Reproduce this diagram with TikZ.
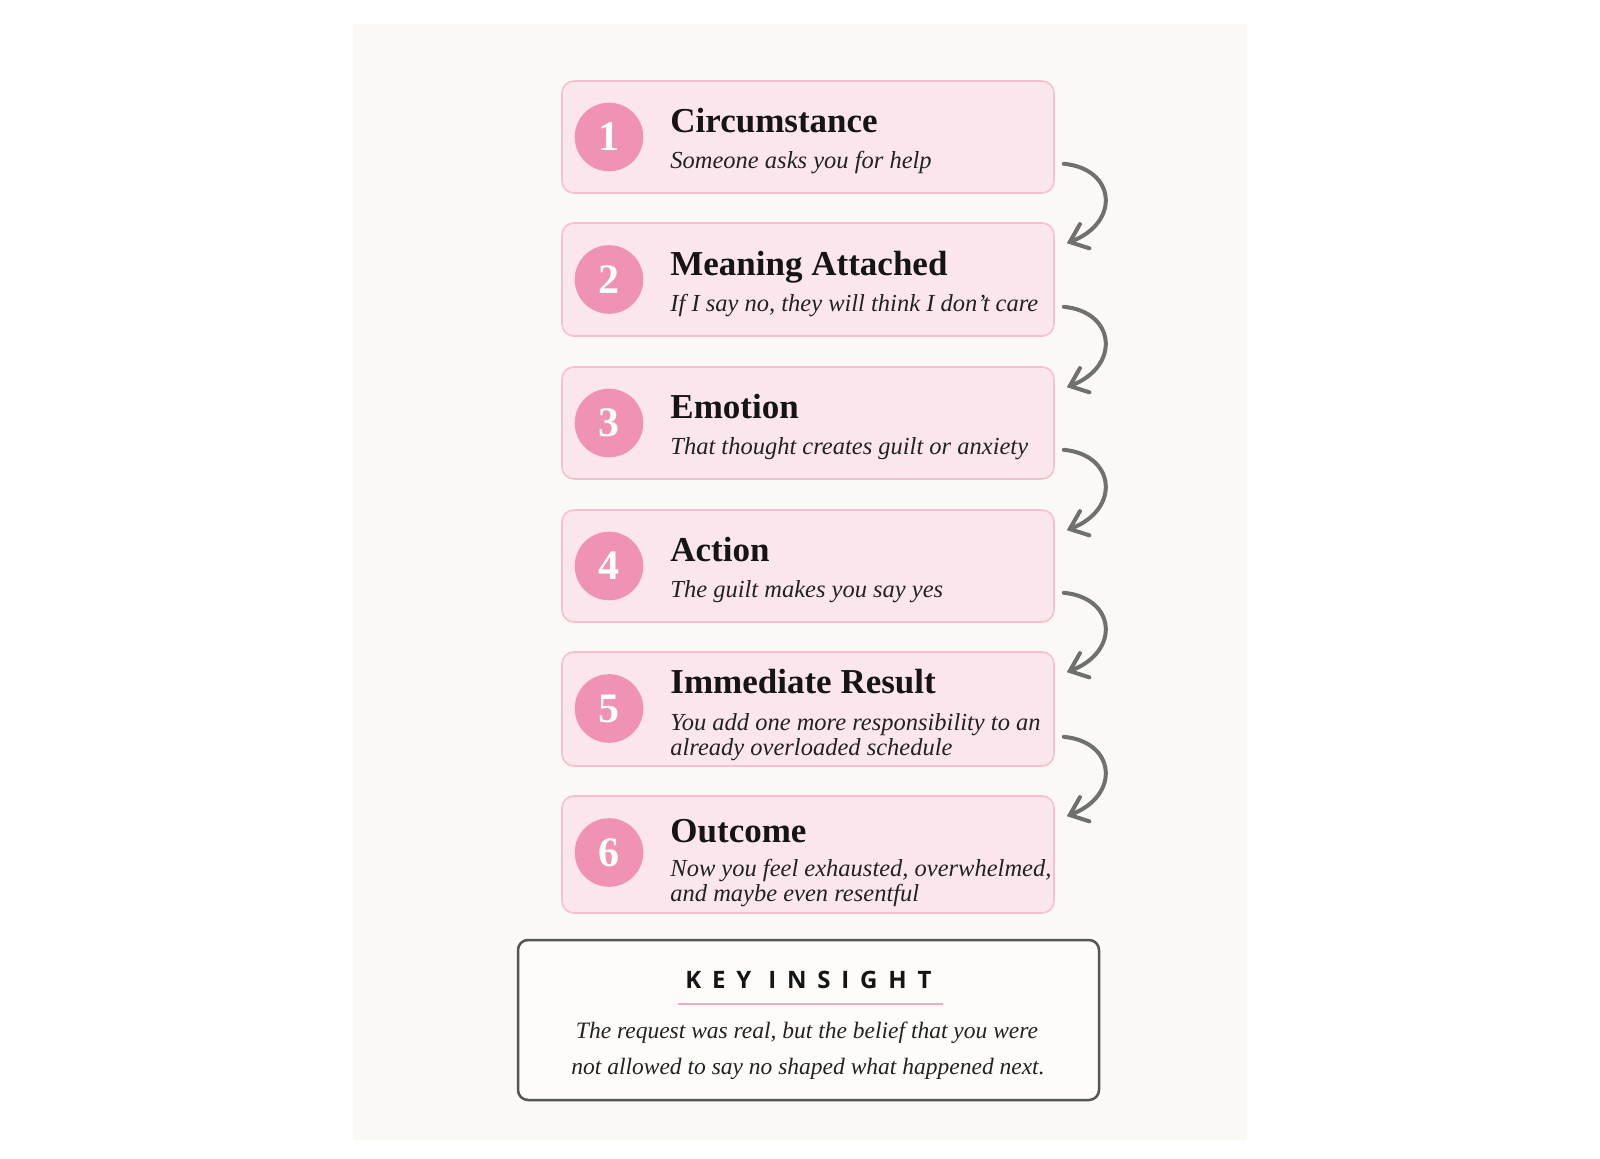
\documentclass[tikz,border=0pt]{standalone}
\usepackage{fontspec}
\setmainfont{Liberation Serif}
\newfontfamily\keyfont[LetterSpace=45]{Open Sans}
\usetikzlibrary{arrows.meta,calc}
\definecolor{panel}{HTML}{FBF9F5}
\definecolor{boxfill}{HTML}{FCE6EE}
\definecolor{boxline}{HTML}{F7BFD2}
\definecolor{circfill}{HTML}{EF92B3}
\definecolor{arrowgray}{HTML}{707070}
\definecolor{keyline}{HTML}{555555}
\definecolor{keyfill}{HTML}{FDFCFA}
\definecolor{underl}{HTML}{F4A9C2}
\definecolor{ink}{HTML}{151515}
\definecolor{subink}{HTML}{222222}
\begin{document}
\begin{tikzpicture}[x=0.5pt,y=-0.5pt,
  stepbox/.style={draw=boxline, fill=boxfill, line width=0.8pt, rounded corners=6pt, minimum width=246pt, inner sep=0pt},
  numcirc/.style={circle, fill=circfill, minimum size=34.3pt, inner sep=0pt, text=white, font=\fontsize{21}{21}\selectfont\bfseries},
  titletxt/.style={anchor=base west, inner sep=0pt, text=ink, font=\fontsize{17.5}{20}\selectfont\bfseries},
  subtxt/.style={anchor=base west, inner sep=0pt, text=subink, font=\fontsize{12.25}{14}\selectfont\itshape},
  flow/.style={draw=arrowgray, line width=2pt, line cap=round, -{Straight Barb[length=8pt,width=13pt,line cap=round]}},
  keybox/.style={draw=keyline, fill=keyfill, line width=1.25pt, rounded corners=5pt, minimum width=290.5pt, minimum height=80pt, inner sep=0pt},
  keytitle/.style={anchor=base west, inner sep=0pt, text=ink, font=\fontsize{12}{14}\keyfont\bfseries},
  keytxt/.style={anchor=base, inner sep=0pt, text=subink, font=\fontsize{11.75}{14}\selectfont\itshape},
]
\useasboundingbox (0,0) rectangle (1600,1159);
\fill[white] (0,0) rectangle (1600,1159);
\fill[panel] (353,24) rectangle (1247,1140);

% step boxes
\node[stepbox, minimum height=56pt] (b1) at (808,137) {};
\node[stepbox, minimum height=56.5pt] (b2) at (808,279.5) {};
\node[stepbox, minimum height=56pt] (b3) at (808,423) {};
\node[stepbox, minimum height=56pt] (b4) at (808,566) {};
\node[stepbox, minimum height=57pt] (b5) at (808,709) {};
\node[stepbox, minimum height=58.5pt] (b6) at (808,854.5) {};

% number circles
\node[numcirc] (c1) at (609,137) {1};
\node[numcirc] (c2) at (609,279.5) {2};
\node[numcirc] (c3) at (609,423) {3};
\node[numcirc] (c4) at (609,566) {4};
\node[numcirc] (c5) at (609,708.5) {5};
\node[numcirc] (c6) at (609,852.5) {6};

% texts
\node[titletxt] (t1) at (670,133) {Circumstance};
\node[subtxt] (s1) at (670,169) {Someone asks you for help};
\node[titletxt] (t2) at (670,275.5) {Meaning Attached};
\node[subtxt] (s2) at (670,311.5) {If I say no, they will think I don’t care};
\node[titletxt] (t3) at (670,419) {Emotion};
\node[subtxt] (s3) at (670,455) {That thought creates guilt or anxiety};
\node[titletxt] (t4) at (670,562) {Action};
\node[subtxt] (s4) at (670,598) {The guilt makes you say yes};
\node[titletxt] (t5) at (670,694) {Immediate Result};
\node[subtxt] (s5a) at (670,730) {You add one more responsibility to an};
\node[subtxt] (s5b) at (670,755) {already overloaded schedule};
\node[titletxt] (t6) at (670,842) {Outcome};
\node[subtxt] (s6a) at (670,876) {Now you feel exhausted, overwhelmed,};
\node[subtxt] (s6b) at (670,901) {and maybe even resentful};

% curved arrows
\draw[flow] ([shift={(9,-30)}]b1.south east) .. controls +(52,5) and +(54,-21) .. ([shift={(12,21)}]b2.north east);
\draw[flow] ([shift={(9,-30)}]b2.south east) .. controls +(52,5) and +(54,-21) .. ([shift={(12,21)}]b3.north east);
\draw[flow] ([shift={(9,-30)}]b3.south east) .. controls +(52,5) and +(54,-21) .. ([shift={(12,21)}]b4.north east);
\draw[flow] ([shift={(9,-30)}]b4.south east) .. controls +(52,5) and +(54,-21) .. ([shift={(12,21)}]b5.north east);
\draw[flow] ([shift={(9,-30)}]b5.south east) .. controls +(52,5) and +(54,-21) .. ([shift={(12,21)}]b6.north east);

% key insight
\node[keybox] (kb) at (808.5,1020) {};
\node[keytitle] (kt) at (685,988) {KEY INSIGHT};
\coordinate (ul1) at (678,1004);
\coordinate (ul2) at (943,1004);
\draw[underl, line width=1pt] (ul1) -- (ul2);
\node[keytxt] (k1) at (807,1038) {The request was real, but the belief that you were};
\node[keytxt] (k2) at (808,1074) {not allowed to say no shaped what happened next.};
\end{tikzpicture}
\end{document}
